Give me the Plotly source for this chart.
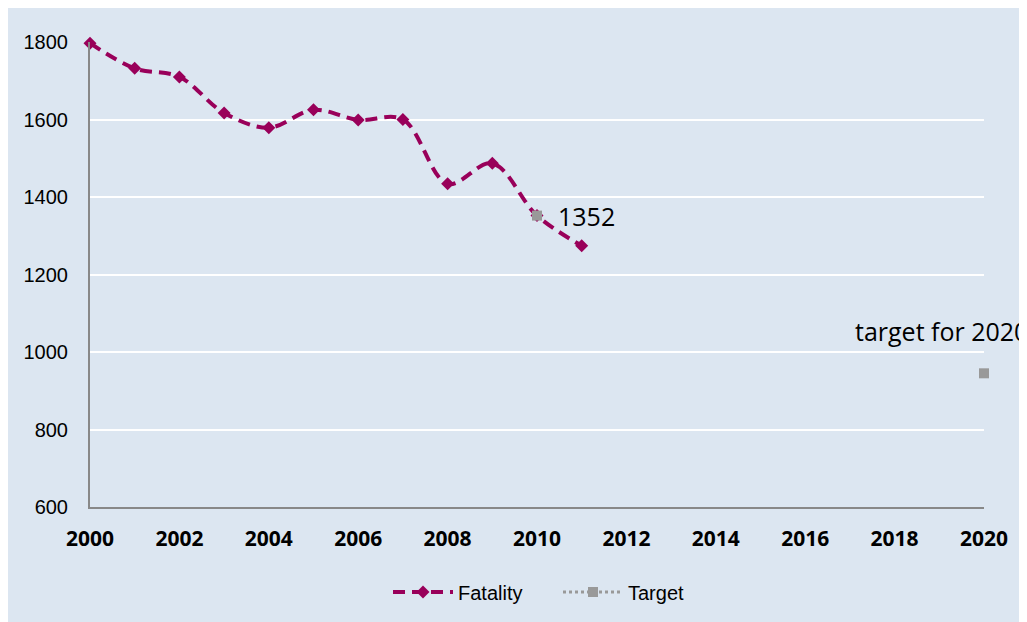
import plotly.graph_objects as go

years = list(range(2000, 2012))
fatality = [1797, 1732, 1710, 1617, 1579, 1625, 1599, 1600, 1434, 1487, 1352, 1274]

target_years = list(range(2010, 2021))
target = [1352] + [None] * 9 + [945]

x_ticks = list(range(2000, 2021, 2))
y_ticks = list(range(600, 1801, 200))

BG = "#DCE6F1"
FAT_COLOR = "#99005A"
TGT_COLOR = "#999999"

# figure sits 8px in from the page corner (body margin)
W, H = 1027, 622
L, R, T, B = 82, 51, 34, 123
pw, ph = W - L - R, H - T - B

fig = go.Figure()

fig.add_trace(go.Scatter(
    x=years, y=fatality, name="Fatality", mode="lines+markers",
    line=dict(color=FAT_COLOR, width=4, dash="12px,7px", shape="spline", smoothing=1.0),
    marker=dict(symbol="diamond", size=10, color=FAT_COLOR),
    cliponaxis=False,
))
fig.add_trace(go.Scatter(
    x=target_years, y=target, name="Target", mode="lines+markers",
    line=dict(color=TGT_COLOR, width=3, dash="dot"),
    marker=dict(symbol="square", size=10, color=TGT_COLOR),
    connectgaps=False, cliponaxis=False,
))

fig.add_annotation(x=2010, y=1352, text="1352", showarrow=False,
                   xanchor="left", xshift=19, yshift=0,
                   font=dict(family="Open Sans", size=25, color="#000000"))
fig.add_annotation(x=2020, y=945, text="target for 2020", showarrow=False,
                   xanchor="left", xshift=-131, yshift=42,
                   font=dict(family="Open Sans", size=25, color="#000000"))

fig.update_layout(
    width=W, height=H,
    paper_bgcolor=BG, plot_bgcolor=BG,
    margin=dict(l=L, r=R, t=T, b=B),
    font=dict(family="Liberation Sans, Arial, sans-serif", size=20, color="#000000"),
    showlegend=True,
    legend=dict(orientation="h", x=(380 - L) / pw, xanchor="left",
                y=-85 / ph, yanchor="middle",
                font=dict(size=20), bgcolor="rgba(0,0,0,0)",
                entrywidth=95, itemwidth=60),
    xaxis=dict(range=[2000, 2020], tickvals=x_ticks, showgrid=False, zeroline=False,
               ticks="outside", ticklen=12, tickcolor="rgba(0,0,0,0)",
               showline=True, linecolor="#888888", linewidth=2,
               tickfont=dict(family="Open Sans", size=21, color="#000000", weight="bold")),
    yaxis=dict(range=[600, 1800], tickvals=y_ticks, showgrid=True, gridcolor="white",
               gridwidth=2, zeroline=False,
               ticks="outside", ticklen=16, tickcolor="rgba(0,0,0,0)",
               showline=True, linecolor="#888888", linewidth=2,
               tickfont=dict(size=20)),
)

fig.write_html("out.html")
